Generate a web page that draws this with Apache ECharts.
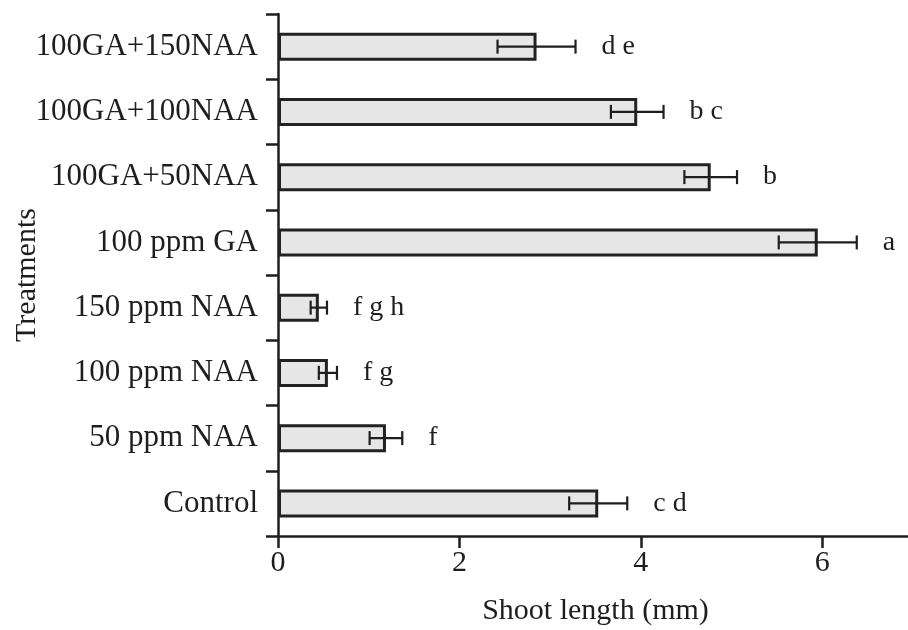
<!DOCTYPE html>
<html>
<head>
<meta charset="utf-8">
<script src="https://cdn.jsdelivr.net/npm/echarts@6/dist/echarts.min.js"></script>
<style>
  html, body { margin: 0; padding: 0; background: #fff; }
  #main { width: 908px; height: 630px; }
</style>
</head>
<body>
<div id="main"></div>
<script>
// categories listed bottom to top
var treatments = ['Control', '50 ppm NAA', '100 ppm NAA', '150 ppm NAA', '100 ppm GA', '100GA+50NAA', '100GA+100NAA', '100GA+150NAA'];
var shootLength = [3.53, 1.19, 0.55, 0.45, 5.95, 4.77, 3.96, 2.85];
var stdError = [0.32, 0.18, 0.10, 0.09, 0.43, 0.29, 0.29, 0.43];
var groupLetters = ['c d', 'f', 'f g', 'f g h', 'a', 'b', 'b c', 'd e'];
var xTicks = [0, 2, 4, 6];

var serif = '"Liberation Serif", "Times New Roman", serif';
var ink = '#1e1e1e';

var errData = shootLength.map(function (v, i) {
    return [i, v, stdError[i], groupLetters[i]];
});

var option = {
    animation: false,
    grid: {
        left: 278,
        right: -5,
        top: 14,
        bottom: 94,
        outerBoundsMode: 'none',
        containLabel: false
    },
    xAxis: {
        type: 'value',
        min: 0,
        max: 7,
        interval: 2,
        name: 'Shoot length (mm)',
        nameLocation: 'middle',
        nameGap: 60,
        nameMoveOverlap: false,
        nameTextStyle: { fontFamily: serif, fontSize: 30, color: ink },
        splitLine: { show: false },
        axisLine: { show: true, lineStyle: { color: ink, width: 2.5 } },
        axisTick: { show: true, length: 12, lineStyle: { color: ink, width: 2.5 } },
        axisLabel: {
            margin: 12,
            fontFamily: serif, fontSize: 30, color: ink,
            formatter: function (v) { return xTicks.indexOf(v) >= 0 ? String(v) : ''; }
        }
    },
    yAxis: {
        type: 'category',
        data: treatments,
        name: 'Treatments',
        nameLocation: 'middle',
        nameRotate: 90,
        nameGap: 236,
        nameMoveOverlap: false,
        nameTextStyle: { fontFamily: serif, fontSize: 30, color: ink },
        axisLine: { show: true, lineStyle: { color: ink, width: 2.5 } },
        axisTick: { show: true, length: 12, lineStyle: { color: ink, width: 2.5 } },
        axisLabel: { margin: 20, fontFamily: serif, fontSize: 31, color: ink }
    },
    series: [
        {
            type: 'bar',
            data: shootLength,
            barWidth: 28,
            itemStyle: { color: '#e6e6e6', borderColor: '#222', borderWidth: 3 }
        },
        {
            type: 'custom',
            data: errData,
            z: 5,
            renderItem: function (params, api) {
                var idx = api.value(0);
                var v = api.value(1);
                var e = api.value(2);
                var lo = api.coord([v - e, idx]);
                var hi = api.coord([v + e, idx]);
                var cap = 7;
                var ls = { stroke: ink, lineWidth: 2.2 };
                return {
                    type: 'group',
                    children: [
                        { type: 'line', shape: { x1: lo[0], y1: lo[1], x2: hi[0], y2: hi[1] }, style: ls },
                        { type: 'line', shape: { x1: lo[0], y1: lo[1] - cap, x2: lo[0], y2: lo[1] + cap }, style: ls },
                        { type: 'line', shape: { x1: hi[0], y1: hi[1] - cap, x2: hi[0], y2: hi[1] + cap }, style: ls },
                        {
                            type: 'text',
                            style: {
                                text: errData[params.dataIndex][3],
                                x: hi[0] + 26,
                                y: hi[1],
                                verticalAlign: 'middle',
                                align: 'left',
                                fontFamily: serif,
                                fontSize: 28,
                                fill: ink
                            }
                        }
                    ]
                };
            }
        }
    ]
};

var chart = echarts.init(document.getElementById('main'));
chart.setOption(option, true);
</script>
</body>
</html>
